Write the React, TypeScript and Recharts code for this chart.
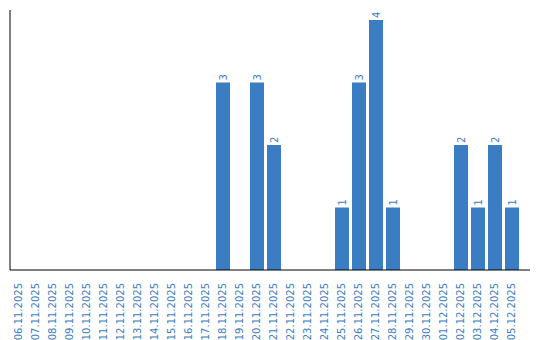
import React from 'react';
import { BarChart, Bar, XAxis, YAxis, LabelList } from 'recharts';

const days = [
  '06.11.2025', '07.11.2025', '08.11.2025', '09.11.2025', '10.11.2025',
  '11.11.2025', '12.11.2025', '13.11.2025', '14.11.2025', '15.11.2025',
  '16.11.2025', '17.11.2025', '18.11.2025', '19.11.2025', '20.11.2025',
  '21.11.2025', '22.11.2025', '23.11.2025', '24.11.2025', '25.11.2025',
  '26.11.2025', '27.11.2025', '28.11.2025', '29.11.2025', '30.11.2025',
  '01.12.2025', '02.12.2025', '03.12.2025', '04.12.2025', '05.12.2025',
];
const counts = [0, 0, 0, 0, 0, 0, 0, 0, 0, 0, 0, 0, 3, 0, 3, 2, 0, 0, 0, 1, 3, 4, 1, 0, 0, 0, 2, 1, 2, 1];

const data = days.map((day, i) => ({ day, count: counts[i] }));

const BLUE = '#3b7dc3';
const FONT = '"DejaVu Sans", Verdana, sans-serif';

function DayTick({ x, y, payload }: any) {
  return (
    <text
      transform={`translate(${x},${y + 5}) rotate(-90)`}
      textAnchor="end"
      dy="0.35em"
      fill={BLUE}
      fontSize={10}
      fontFamily={FONT}
    >
      {payload.value}
    </text>
  );
}

function ValueLabel({ x, y, width, value }: any) {
  if (!value) return null;
  const cx = x + width / 2;
  return (
    <text
      transform={`translate(${cx},${y - 2}) rotate(-90)`}
      textAnchor="start"
      dy="0.35em"
      fill={BLUE}
      fontSize={10}
      fontFamily={FONT}
    >
      {value}
    </text>
  );
}

export default function App() {
  return (
    <div style={{ position: 'absolute', left: 0, top: 0 }}>
      <BarChart width={540} height={340} data={data} margin={{ top: 10, right: 10, left: 0, bottom: 0 }} barSize={14}>
        <XAxis
          dataKey="day"
          interval={0}
          height={70}
          tick={<DayTick />}
          tickLine={false}
          axisLine={{ stroke: '#000' }}
          padding={{ left: 0, right: 10 }}
        />
        <YAxis width={10} domain={[0, 4.16]} tick={false} tickLine={false} axisLine={{ stroke: '#000' }} />
        <Bar dataKey="count" fill={BLUE} isAnimationActive={false}>
          <LabelList dataKey="count" content={<ValueLabel />} />
        </Bar>
      </BarChart>
    </div>
  );
}
